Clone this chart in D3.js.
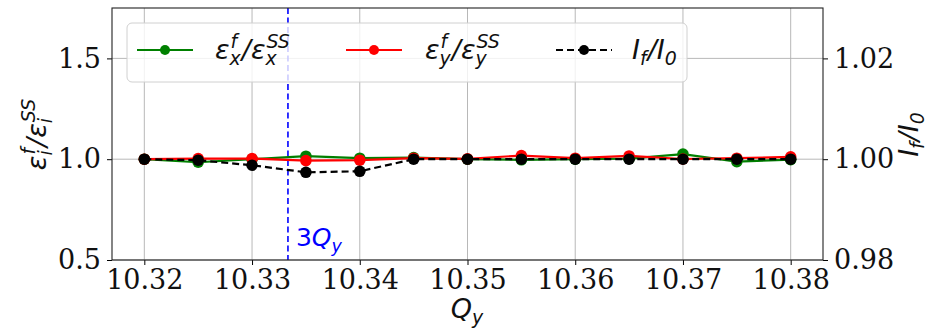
<!DOCTYPE html>
<html>
<head>
<meta charset="utf-8">
<script src="https://cdn.jsdelivr.net/npm/d3@7"></script>
<style>
  html, body { margin: 0; padding: 0; background: #fff; }
  svg { display: block; }
</style>
</head>
<body>
<svg id="chart" width="930" height="330"></svg>
<script>
// Tune scan: final/start emittance ratios and intensity ratio vs Q_y
const tunes = [10.32, 10.325, 10.33, 10.335, 10.34, 10.345, 10.35, 10.355, 10.36, 10.365, 10.37, 10.375, 10.38];
const emitX = [1.0, 0.985, 1.0, 1.015, 1.005, 1.008, 1.0, 0.997, 1.0, 1.003, 1.025, 0.988, 0.998];
const emitY = [1.0, 1.003, 1.003, 0.993, 0.995, 1.005, 1.002, 1.018, 1.005, 1.016, 1.001, 1.005, 1.012];
const intensity = [1.0, 0.9998, 0.9988, 0.9974, 0.9976, 1.0, 1.0, 1.0, 1.0, 1.0, 1.0, 1.0, 1.0];
const xTicks = [10.32, 10.33, 10.34, 10.35, 10.36, 10.37, 10.38];
const yLeftTicks = [0.5, 1.0, 1.5];
const yRightTicks = [0.98, 1.00, 1.02];
const resonance = 31 / 3; // third-order resonance 3Q_y = 31

const svg = d3.select("#chart");
const plot = { left: 112, right: 823, top: 8, bottom: 260 };

const x = d3.scaleLinear().domain([10.317, 10.383]).range([plot.left, plot.right]);
const yL = d3.scaleLinear().domain([0.5, 1.75]).range([plot.bottom, plot.top]);
const yR = d3.scaleLinear().domain([0.98, 1.03]).range([plot.bottom, plot.top]);

const mathFont = "'DejaVu Sans', sans-serif";
const tickFont = "'DejaVu Serif', serif";

// grid
const grid = svg.append("g").attr("stroke", "#b0b0b0").attr("stroke-width", 0.9);
grid.selectAll(".gx").data(xTicks).join("line")
  .attr("x1", d => x(d)).attr("x2", d => x(d))
  .attr("y1", plot.top).attr("y2", plot.bottom);
grid.selectAll(".gy").data(yLeftTicks).join("line")
  .attr("x1", plot.left).attr("x2", plot.right)
  .attr("y1", d => yL(d)).attr("y2", d => yL(d));

// resonance line
svg.append("line")
  .attr("x1", x(resonance)).attr("x2", x(resonance))
  .attr("y1", plot.top).attr("y2", plot.bottom)
  .attr("stroke", "#0000ff").attr("stroke-width", 1.6)
  .attr("stroke-dasharray", "6,3.5");

// series
function series(values, scale, color, dash) {
  const pts = tunes.map((q, i) => [x(q), scale(values[i])]);
  svg.append("path")
    .attr("d", d3.line()(pts))
    .attr("fill", "none").attr("stroke", color).attr("stroke-width", 2.2)
    .attr("stroke-dasharray", dash || null);
  svg.append("g").selectAll("circle").data(pts).join("circle")
    .attr("cx", d => d[0]).attr("cy", d => d[1]).attr("r", 5.8)
    .attr("fill", color);
}
series(emitX, yL, "#008000");
series(emitY, yL, "#ff0000");
series(intensity, yR, "#000000", "7,4");

// axes
const axisB = d3.axisBottom(x).tickValues(xTicks).tickFormat(d3.format(".2f")).tickSize(5).tickPadding(5);
const axisL = d3.axisLeft(yL).tickValues(yLeftTicks).tickFormat(d3.format(".1f")).tickSize(5).tickPadding(6);
const axisR = d3.axisRight(yR).tickValues(yRightTicks).tickFormat(d3.format(".2f")).tickSize(5).tickPadding(6);

function styleAxis(g) {
  g.attr("font-family", tickFont).attr("font-size", 27);
  g.select(".domain").remove();
  g.selectAll(".tick line").attr("stroke", "#000").attr("stroke-width", 1);
  g.selectAll(".tick text").attr("fill", "#111");
}
svg.append("g").attr("transform", `translate(0,${plot.bottom})`).call(axisB).call(styleAxis);
svg.append("g").attr("transform", `translate(${plot.left},0)`).call(axisL).call(styleAxis);
svg.append("g").attr("transform", `translate(${plot.right},0)`).call(axisR).call(styleAxis);

// frame
svg.append("rect")
  .attr("x", plot.left).attr("y", plot.top)
  .attr("width", plot.right - plot.left).attr("height", plot.bottom - plot.top)
  .attr("fill", "none").attr("stroke", "#222").attr("stroke-width", 1.1);

// math-style label: tokens of {b, sup, sub}
function mathText(parent, tokens, size, color) {
  const g = parent.append("g");
  let cx = 0;
  tokens.forEach(tk => {
    const t = g.append("text").attr("x", cx).attr("y", 0)
      .attr("font-family", mathFont).attr("font-size", size)
      .attr("font-style", tk.upright ? "normal" : "italic").attr("fill", color).text(tk.b);
    cx += t.node().getComputedTextLength();
    let w = 0;
    if (tk.sup) {
      const s = g.append("text").attr("x", cx + 1).attr("y", -size * 0.42)
        .attr("font-family", mathFont).attr("font-size", size * 0.7)
        .attr("font-style", "italic").attr("fill", color).text(tk.sup);
      w = Math.max(w, s.node().getComputedTextLength() + 1);
    }
    if (tk.sub) {
      const s = g.append("text").attr("x", cx).attr("y", size * 0.22)
        .attr("font-family", mathFont).attr("font-size", size * 0.7)
        .attr("font-style", "italic").attr("fill", color).text(tk.sub);
      w = Math.max(w, s.node().getComputedTextLength());
    }
    cx += w + (tk.sup || tk.sub ? 1 : 0);
  });
  return { g, width: cx };
}

// axis titles
const xl = mathText(svg, [{ b: "Q", sub: "y" }], 27, "#111");
xl.g.attr("transform", `translate(${(plot.left + plot.right) / 2 - xl.width / 2},318)`);

const yl = mathText(svg, [{ b: "ε", sup: "f", sub: "i" }, { b: "/" }, { b: "ε", sup: "SS", sub: "i" }], 27, "#111");
yl.g.attr("transform", `translate(46,${134 + yl.width / 2}) rotate(-90)`);

const yr = mathText(svg, [{ b: "I", sub: "f" }, { b: "/" }, { b: "I", sub: "0" }], 27, "#111");
yr.g.attr("transform", `translate(918,${134 + yr.width / 2}) rotate(-90)`);

// resonance annotation
const rl = mathText(svg, [{ b: "3", upright: true }, { b: "Q", sub: "y" }], 25, "#0000ff");
rl.g.attr("transform", `translate(${x(resonance) + 8},246)`);

// legend
const legend = svg.append("g");
legend.append("rect")
  .attr("x", 127).attr("y", 23).attr("width", 560).attr("height", 59).attr("rx", 5)
  .attr("fill", "rgba(255,255,255,0.8)").attr("stroke", "#d0d0d0").attr("stroke-width", 1);
const entries = [
  { x0: 137, tx: 215, color: "#008000", dash: null, tokens: [{ b: "ε", sup: "f", sub: "x" }, { b: "/" }, { b: "ε", sup: "SS", sub: "x" }] },
  { x0: 346, tx: 425, color: "#ff0000", dash: null, tokens: [{ b: "ε", sup: "f", sub: "y" }, { b: "/" }, { b: "ε", sup: "SS", sub: "y" }] },
  { x0: 556, tx: 632, color: "#000000", dash: "7,4", tokens: [{ b: "I", sub: "f" }, { b: "/" }, { b: "I", sub: "0" }] }
];
entries.forEach(e => {
  legend.append("line").attr("x1", e.x0).attr("x2", e.x0 + 56).attr("y1", 50).attr("y2", 50)
    .attr("stroke", e.color).attr("stroke-width", 2.2).attr("stroke-dasharray", e.dash);
  legend.append("circle").attr("cx", e.x0 + 28).attr("cy", 50).attr("r", 5).attr("fill", e.color);
  const m = mathText(legend, e.tokens, 27, "#111");
  m.g.attr("transform", `translate(${e.tx},59)`);
});
</script>
</body>
</html>
